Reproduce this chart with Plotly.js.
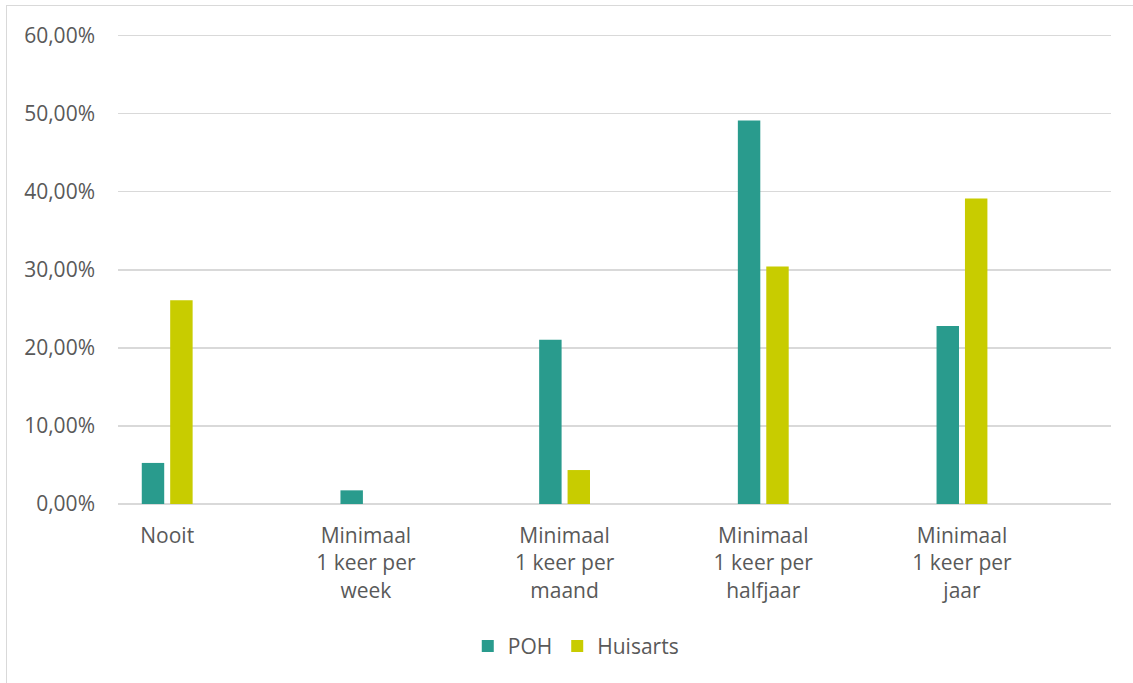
<!DOCTYPE html>
<html>
<head>
<meta charset="utf-8">
<script src="https://cdn.plot.ly/plotly-3.0.1.min.js"></script>
<style>
  html, body { margin: 0; padding: 0; background: #fff; }
  #wrap { position: relative; width: 1133px; height: 683px; overflow: hidden; }
  #chart { position: absolute; left: 0; top: 0; width: 1133px; height: 683px; }
  #frame { position: absolute; left: 6px; top: 5px; width: 1200px; height: 800px;
           border-left: 1.5px solid #d9d9d9; border-top: 1.5px solid #d9d9d9; pointer-events: none; }
</style>
</head>
<body>
<div id="wrap">
  <div id="chart"></div>
  <div id="frame"></div>
</div>
<script>
const categories = [
  "Nooit",
  "Minimaal<br>1 keer per<br>week",
  "Minimaal<br>1 keer per<br>maand",
  "Minimaal<br>1 keer per<br>halfjaar",
  "Minimaal<br>1 keer per<br>jaar"
];
const pohValues = [0.0526, 0.0175, 0.2105, 0.4912, 0.2281];
const huisartsValues = [0.2609, 0.0, 0.0435, 0.3043, 0.3913];
const yTickValues = [0, 0.1, 0.2, 0.3, 0.4, 0.5, 0.6];
const yTickLabels = ["0,00%", "10,00%", "20,00%", "30,00%", "40,00%", "50,00%", "60,00%"];

const font = { family: "Open Sans, sans-serif", size: 21, color: "#595959" };

const traces = [
  { type: "bar", name: "POH", x: categories, y: pohValues, marker: { color: "#299B8D" }, hoverinfo: "skip" },
  { type: "bar", name: "Huisarts", x: categories, y: huisartsValues, marker: { color: "#C8CC00" }, hoverinfo: "skip" }
];

const layout = {
  width: 1133, height: 683,
  margin: { l: 118, r: 22, t: 34, b: 179 },
  paper_bgcolor: "rgba(0,0,0,0)",
  plot_bgcolor: "#fff",
  font: font,
  barmode: "group",
  bargap: 0.714,
  bargroupgap: 0.21,
  showlegend: true,
  legend: {
    orientation: "h", x: 0.461, xanchor: "center", y: -0.303, yanchor: "middle",
    font: font, itemwidth: 30, traceorder: "normal"
  },
  xaxis: {
    type: "category",
    range: [-0.2476, 4.75],
    showgrid: false, zeroline: false, showline: false,
    ticks: "", tickfont: font, fixedrange: true,
    tickangle: 0, ticklabelstandoff: 17
  },
  yaxis: {
    range: [0, 0.602],
    tickvals: yTickValues, ticktext: yTickLabels,
    showgrid: true, gridcolor: "#d9d9d9", gridwidth: 1.5,
    zeroline: true, zerolinecolor: "#d9d9d9", zerolinewidth: 1.5,
    showline: false, ticks: "", tickfont: font,
    ticklabelstandoff: 22, fixedrange: true
  }
};

Plotly.newPlot("chart", traces, layout, { staticPlot: true, displayModeBar: false });
</script>
</body>
</html>
